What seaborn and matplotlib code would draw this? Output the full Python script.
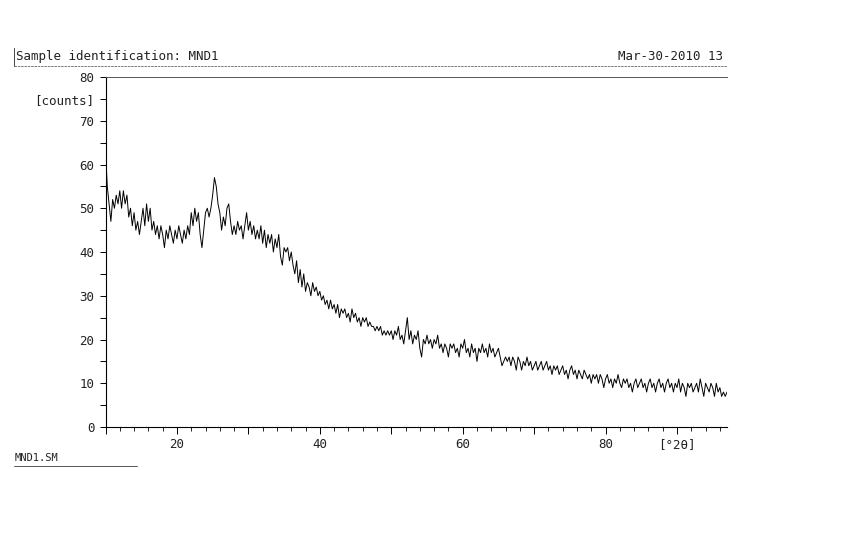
import numpy as np
import pandas as pd
import matplotlib
matplotlib.use('Agg')
import matplotlib.pyplot as plt
import seaborn as sns
from matplotlib.lines import Line2D

sns.set_theme(style='white')
plt.rcParams['font.family'] = ['DejaVu Sans Mono', 'DejaVu Sans']

scan_start, scan_step = 10.0, 0.25
counts = [
    63, 55, 51, 47, 52, 50, 53, 51, 54, 50, 54, 51, 53, 48, 50, 46, 49, 45, 47, 44,   # 10-14.75
    47, 50, 46, 51, 47, 50, 45, 47, 44, 46, 43, 46, 44, 41, 45, 43, 46, 44, 42, 45,   # 15-19.75
    43, 46, 44, 42, 45, 43, 46, 44, 49, 46, 50, 47, 49, 44, 41, 45, 49, 50, 48, 50,   # 20-24.75
    53, 57, 55, 51, 49, 45, 48, 46, 50, 51, 47, 44, 46, 44, 47, 45, 46, 43, 46, 49,   # 25-29.75
    45, 47, 44, 46, 43, 45, 43, 46, 42, 45, 41, 44, 42, 44, 40, 43, 41, 44, 39, 37,   # 30-34.75
    41, 40, 41, 38, 40, 37, 35, 38, 33, 36, 32, 35, 31, 33, 32, 30, 33, 31, 32, 30,   # 35-39.75
    31, 29, 30, 28, 29, 27, 29, 27, 28, 26, 28, 25, 27, 26, 27, 25, 26, 24, 27, 25,   # 40-44.75
    26, 24, 25, 23, 25, 24, 25, 23, 24, 23, 23, 22, 23, 22, 23, 21, 22, 21, 22, 21,   # 45-49.75
    22, 20, 22, 21, 23, 20, 21, 19, 22, 25, 20, 22, 19, 21, 20, 22, 18, 16, 20, 19,   # 50-54.75
    21, 19, 20, 18, 20, 19, 21, 18, 19, 17, 19, 18, 16, 19, 18, 19, 17, 18, 16, 19,   # 55-59.75
    18, 20, 17, 18, 16, 19, 17, 18, 15, 18, 17, 19, 17, 18, 16, 19, 17, 18, 16, 17,   # 60-64.75
    18, 16, 14, 15, 16, 15, 16, 14, 16, 15, 13, 16, 15, 13, 15, 14, 16, 14, 15, 13,   # 65-69.75
    14, 15, 13, 14, 15, 13, 14, 15, 13, 14, 12, 14, 13, 14, 12, 13, 14, 12, 13, 11,   # 70-74.75
    13, 14, 12, 13, 11, 13, 12, 11, 13, 12, 11, 12, 10, 12, 11, 12, 10, 12, 11, 9,    # 75-79.75
    11, 12, 10, 11, 9, 11, 10, 12, 10, 9, 11, 10, 11, 9, 10, 8, 10, 11, 9, 10,        # 80-84.75
    11, 9, 10, 8, 10, 11, 9, 10, 8, 10, 11, 9, 10, 8, 10, 11, 9, 10, 8, 10,           # 85-89.75
    9, 11, 8, 10, 9, 7, 10, 9, 10, 8, 9, 10, 8, 11, 9, 7, 10, 9, 8, 10,               # 90-94.75
    9, 7, 10, 8, 9, 7, 8, 7, 8,                                                       # 95-97
]
two_theta = scan_start + scan_step * np.arange(len(counts))

x_tick_pos = [10, 20, 30, 40, 50, 60, 70, 80, 90]
x_tick_lab = ['', '20', '', '40', '', '60', '', '80', '[°2θ]']
y_tick_pos = [0, 5, 10, 15, 20, 25, 30, 35, 40, 45, 50, 55, 60, 65, 70, 75, 80]
y_tick_lab = ['0', '', '10', '', '20', '', '30', '', '40', '', '50', '', '60', '', '70', '[counts]', '80']

title_text = "Sample identification: MND1"
date_text = "Mar-30-2010 13"
file_text = "MND1.SM"

df = pd.DataFrame({'two_theta': two_theta, 'counts': counts})

fig = plt.figure(figsize=(8.55, 5.5), dpi=100)
ax = fig.add_axes([0.1234, 0.2236, 0.7269, 0.6364])

sns.lineplot(x='two_theta', y='counts', data=df, ax=ax, color='black', linewidth=0.7)

ax.set_xlim(10, 97)
ax.set_ylim(0, 80)
ax.set_xlabel('')
ax.set_ylabel('')

ax.set_xticks(x_tick_pos)
ax.set_xticklabels(x_tick_lab)
ax.set_xticks(np.arange(10, 97, 2), minor=True)
ax.set_yticks(y_tick_pos)
ax.set_yticklabels(y_tick_lab)

ax.tick_params(axis='x', which='major', direction='out', length=5, width=0.7, color='black',
               labelsize=9, pad=3, bottom=True)
ax.tick_params(axis='x', which='minor', direction='out', length=3, width=0.6, color='black', bottom=True)
ax.tick_params(axis='y', which='major', direction='out', length=4, width=0.7, color='black',
               labelsize=9, pad=4, left=True)
for lab in ax.get_xticklabels() + ax.get_yticklabels():
    lab.set_color('#222222')

ax.spines['right'].set_visible(False)
ax.spines['left'].set_color('black')
ax.spines['left'].set_linewidth(0.8)
ax.spines['bottom'].set_color('black')
ax.spines['bottom'].set_linewidth(0.8)
ax.spines['top'].set_color('#555555')
ax.spines['top'].set_linewidth(0.7)
ax.spines['top'].set_linestyle((0, (4, 1)))

# header and footer of the print-out
fig.text(0.019, 0.897, title_text, fontsize=9, color='#222222', va='center', ha='left')
fig.text(0.846, 0.897, date_text, fontsize=9, color='#222222', va='center', ha='right')
fig.add_artist(Line2D([0.0164, 0.85], [0.880, 0.880], color='#666666', lw=0.6,
                      linestyle=(0, (3, 1))))
fig.add_artist(Line2D([0.0164, 0.0164], [0.880, 0.912], color='#444444', lw=0.7))
fig.text(0.0175, 0.167, file_text, fontsize=7.5, color='#222222', va='center', ha='left')
fig.add_artist(Line2D([0.0164, 0.16], [0.152, 0.152], color='#555555', lw=0.7))

fig.savefig('out.png', dpi=100, facecolor='white')
